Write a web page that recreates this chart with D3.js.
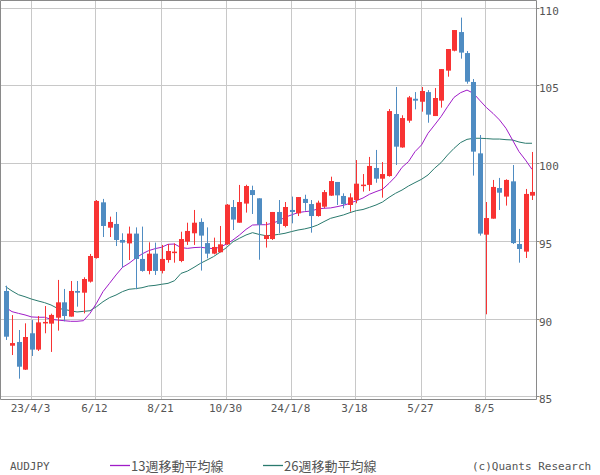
<!DOCTYPE html>
<html><head><meta charset="utf-8">
<script src="https://cdn.jsdelivr.net/npm/d3@7"></script>
<style>html,body{margin:0;padding:0;background:#fff;}svg{display:block;}</style>
</head><body>
<svg id="c" width="600" height="475"></svg>
<script>
const open = [91.77,88.25,88.49,86.71,89.05,88.00,89.73,89.67,90.05,91.04,90.12,91.77,91.66,92.37,93.89,97.47,95.84,96.08,95.05,94.83,95.46,93.83,93.06,94.17,93.06,93.76,94.28,93.70,94.94,95.48,96.21,94.85,94.17,94.26,94.77,97.17,96.16,97.39,98.26,97.73,95.11,95.11,96.85,95.95,96.98,96.76,97.69,97.36,96.59,97.19,97.90,98.78,97.88,97.30,97.62,98.59,98.59,99.68,98.99,99.16,103.15,101.00,102.72,104.13,103.94,104.56,103.02,104.01,105.94,107.22,108.42,107.07,105.21,100.62,95.39,96.42,98.39,97.84,98.82,94.79,94.30,97.90];
const close = [88.83,88.42,86.90,88.81,88.00,89.75,89.78,90.23,91.04,90.16,91.77,91.66,92.54,94.02,97.56,95.95,96.21,95.05,94.88,95.46,93.83,93.06,94.17,93.06,93.83,94.34,94.30,95.11,95.63,96.16,95.33,94.17,94.60,94.77,97.32,96.36,97.49,98.52,97.94,96.04,95.35,96.85,96.08,97.17,96.85,97.81,97.43,96.59,97.45,98.13,98.84,97.92,97.36,97.79,98.67,98.61,99.81,98.99,99.29,103.34,101.05,102.89,104.22,104.01,104.63,103.11,104.18,106.04,107.33,108.55,107.10,105.23,100.73,95.46,96.46,98.46,98.09,98.91,94.85,94.47,98.01,98.14];
const high = [92.11,90.22,89.26,89.69,89.90,90.16,90.80,90.31,92.48,91.90,92.41,92.41,92.65,94.15,97.62,97.69,96.55,96.85,95.48,95.91,95.86,95.91,94.90,94.88,94.73,94.79,94.83,95.58,96.16,96.98,96.44,95.86,95.20,95.95,97.36,97.62,98.59,98.60,98.54,97.73,96.21,96.85,97.62,97.49,97.84,97.81,97.96,97.62,97.58,98.26,99.12,98.78,98.05,98.05,100.19,99.29,100.39,100.84,100.06,103.47,104.89,103.07,104.31,104.56,104.89,104.69,104.82,106.04,107.33,108.55,109.35,107.20,105.40,101.80,97.49,98.91,99.04,98.95,99.87,95.76,98.33,100.71];
const low = [88.62,87.65,86.13,86.69,87.59,87.91,89.05,87.85,89.22,89.82,90.12,90.76,90.33,92.31,93.85,95.24,95.24,94.66,93.27,93.76,91.88,93.01,92.84,92.80,92.90,93.59,93.59,93.62,94.73,94.73,93.08,93.87,94.13,94.26,94.73,95.69,96.16,96.81,96.72,93.78,94.56,95.05,95.48,95.86,96.12,96.59,96.93,95.52,96.55,97.09,97.88,97.30,97.09,96.87,97.41,98.16,98.20,98.73,97.77,99.12,99.87,100.98,102.59,103.45,103.30,102.59,103.02,103.56,105.55,107.18,106.71,105.10,99.19,95.33,90.27,96.42,96.98,97.26,94.79,93.59,93.89,97.62];
const ma13 = [90.72,90.44,90.33,90.23,90.10,90.08,90.08,89.95,89.90,89.86,89.82,89.82,89.86,90.33,90.98,91.73,92.26,92.80,93.29,93.55,93.87,94.15,94.36,94.49,94.58,94.77,94.79,94.56,94.51,94.56,94.58,94.53,94.49,94.58,94.79,95.05,95.37,95.73,96.01,96.03,96.03,96.12,96.27,96.51,96.66,96.81,96.87,96.91,97.04,97.09,97.11,97.19,97.28,97.41,97.58,97.75,97.99,98.16,98.31,98.69,99.12,99.72,100.09,100.73,101.16,101.91,102.44,102.98,103.62,104.22,104.52,104.69,104.48,104.01,103.56,103.19,102.77,102.23,101.48,100.73,100.19,99.59];
const ma26 = [92.05,91.77,91.53,91.40,91.25,91.13,91.02,90.87,90.65,90.59,90.50,90.42,90.46,90.50,90.76,91.08,91.34,91.51,91.73,91.88,91.92,91.98,92.09,92.13,92.20,92.26,92.43,92.90,93.05,93.29,93.55,93.76,93.98,94.26,94.56,94.94,95.16,95.37,95.52,95.41,95.33,95.35,95.41,95.48,95.59,95.69,95.76,95.86,96.01,96.23,96.44,96.55,96.66,96.81,96.94,97.01,97.15,97.30,97.49,97.79,98.05,98.26,98.52,98.74,98.95,99.23,99.66,100.02,100.51,100.94,101.31,101.52,101.59,101.59,101.57,101.54,101.54,101.50,101.48,101.35,101.27,101.27];
const xTickIdx = [4,14,24,34,44,54,64,74];
const xTickLabels = ["23/4/3","6/12","8/21","10/30","24/1/8","3/18","5/27","8/5"];
const yTicks = [85,90,95,100,105,110];
const legendLabels = ["AUDJPY","13週移動平均線","26週移動平均線","(c)Quants Research"];

const svg = d3.select("#c");
const n = open.length;
const x = d3.scaleLinear().domain([0, n - 1]).range([5.5, 532]);
const y = d3.scaleLinear().domain([85, 110]).range([396.25, 7.5]);
const R = 536.5, B = 399.5;
const FONT = "'DejaVu Sans Mono', monospace";
const CJK = "'Noto Sans CJK JP', sans-serif";
const RED = "#f83333", BLUE = "#4f8cc2", PURPLE = "#a01cc8", TEAL = "#2a7a6e";

// grid
svg.append("g").selectAll("line").data(yTicks).join("line")
  .attr("x1", 0).attr("x2", R)
  .attr("y1", d => Math.round(y(d)) + 0.5).attr("y2", d => Math.round(y(d)) + 0.5)
  .attr("stroke", "#c8c8c8").attr("stroke-width", 1);
svg.append("g").selectAll("line").data(xTickIdx).join("line")
  .attr("x1", d => Math.round(x(d)) - 0.5).attr("x2", d => Math.round(x(d)) - 0.5)
  .attr("y1", 0).attr("y2", B)
  .attr("stroke", "#c8c8c8").attr("stroke-width", 1);

// frame
const fr = svg.append("g").attr("stroke", "#8a8a8a").attr("stroke-width", 1).attr("fill", "none");
fr.append("path").attr("d", `M0.5,${B}V0.5H${R}V${B}H0.5`);
fr.selectAll("line").data(yTicks).join("line")
  .attr("x1", R).attr("x2", R + 3)
  .attr("y1", d => Math.round(y(d)) + 0.5).attr("y2", d => Math.round(y(d)) + 0.5);

// MA lines
const line = d3.line().x((d, i) => x(i)).y(d => y(d));
svg.append("path").attr("d", line(ma26)).attr("fill", "none").attr("stroke", TEAL).attr("stroke-width", 1);
svg.append("path").attr("d", line(ma13)).attr("fill", "none").attr("stroke", PURPLE).attr("stroke-width", 1);

// candles
const idx = d3.range(n);
const cg = svg.append("g");
cg.selectAll("line").data(idx).join("line")
  .attr("x1", i => Math.round(x(i)) + 0.5).attr("x2", i => Math.round(x(i)) + 0.5)
  .attr("y1", i => y(high[i])).attr("y2", i => y(low[i]))
  .attr("stroke", i => close[i] >= open[i] ? RED : BLUE).attr("stroke-width", 1);
cg.selectAll("rect").data(idx).join("rect")
  .attr("x", i => Math.round(x(i)) - 2).attr("width", 5)
  .attr("y", i => y(Math.max(open[i], close[i])))
  .attr("height", i => Math.max(1.5, Math.abs(y(open[i]) - y(close[i]))))
  .attr("fill", i => close[i] >= open[i] ? RED : BLUE);

// axis labels
svg.append("g").selectAll("text").data(xTickIdx).join("text")
  .attr("x", d => Math.round(x(d)) - 1.5).attr("y", 412)
  .attr("text-anchor", "middle").attr("font-family", FONT).attr("font-size", 11)
  .attr("fill", "#555").text((d, i) => xTickLabels[i]);
svg.append("g").selectAll("text").data(yTicks).join("text")
  .attr("x", 539).attr("y", d => Math.round(y(d)) + 7)
  .attr("font-family", FONT).attr("font-size", 11).attr("fill", "#555")
  .text(d => d);

// legend
const lg = svg.append("g").attr("fill", "#555");
lg.append("text").attr("x", 10).attr("y", 470).attr("font-family", FONT).attr("font-size", 11).text(legendLabels[0]);
lg.append("line").attr("x1", 110).attr("x2", 130).attr("y1", 465.5).attr("y2", 465.5).attr("stroke", PURPLE).attr("stroke-width", 1.3);
lg.append("text").attr("x", 131).attr("y", 470.5).attr("font-family", CJK).attr("font-size", 13).text(legendLabels[1]);
lg.append("line").attr("x1", 263).attr("x2", 283).attr("y1", 465.5).attr("y2", 465.5).attr("stroke", TEAL).attr("stroke-width", 1.3);
lg.append("text").attr("x", 284).attr("y", 470.5).attr("font-family", CJK).attr("font-size", 13).text(legendLabels[2]);
lg.append("text").attr("x", 472).attr("y", 470).attr("font-family", FONT).attr("font-size", 11).text(legendLabels[3]);
</script>
</body></html>
